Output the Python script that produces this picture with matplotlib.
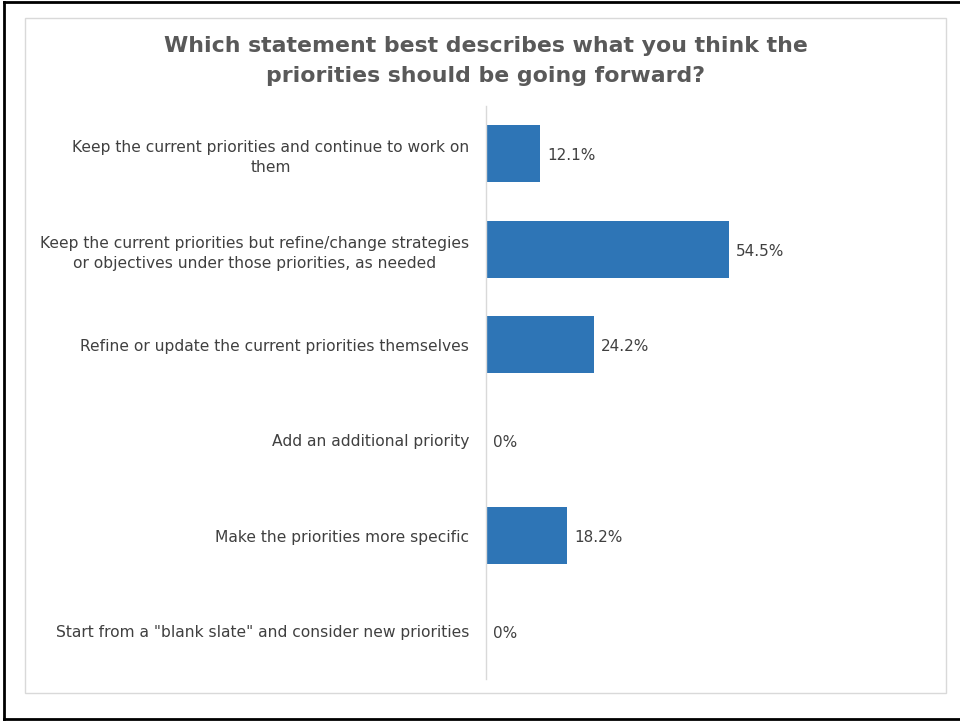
import matplotlib.pyplot as plt
from matplotlib.patches import Rectangle

categories = [
    "Keep the current priorities and continue to work on\nthem",
    "Keep the current priorities but refine/change strategies\nor objectives under those priorities, as needed",
    "Refine or update the current priorities themselves",
    "Add an additional priority",
    "Make the priorities more specific",
    "Start from a \"blank slate\" and consider new priorities",
]
values = [12.1, 54.5, 24.2, 0, 18.2, 0]
value_labels = ["12.1%", "54.5%", "24.2%", "0%", "18.2%", "0%"]
title = "Which statement best describes what you think the\npriorities should be going forward?"

W, H = 960, 721
fig = plt.figure(figsize=(W / 100, H / 100), dpi=100)
fig.patch.set_facecolor("white")

# outer black frame (no right edge) and inner light gray chart border
fig.add_artist(plt.Line2D([4 / W, 4 / W], [1 - 2 / H, 2 / H], color="black", lw=2,
                          transform=fig.transFigure))
fig.add_artist(plt.Line2D([4 / W, 1], [1 - 2 / H, 1 - 2 / H], color="black", lw=2,
                          transform=fig.transFigure))
fig.add_artist(plt.Line2D([4 / W, 1], [2 / H, 2 / H], color="black", lw=2,
                          transform=fig.transFigure))
fig.add_artist(Rectangle((25 / W, 1 - 693 / H), (946 - 25) / W, (693 - 18) / H,
                         transform=fig.transFigure, fill=False, edgecolor="#D9D9D9", lw=1))

left, right = 486, 932
top, bottom = 106, 679
ax = fig.add_axes([left / W, 1 - bottom / H, (right - left) / W, (bottom - top) / H])

y = list(range(len(categories)))
ax.barh(y, values, height=0.6, color="#2E75B6")
for yi, v, lab in zip(y, values, value_labels):
    ax.text(v + 1.6, yi + 0.02, lab, va="center", ha="left", fontsize=11, color="#404040")

ax.set_xlim(0, 100)
ax.set_ylim(len(categories) - 0.5, -0.5)
ax.set_yticks(y)
ax.set_yticklabels(categories, fontsize=11.2, color="#404040", multialignment="center",
                   linespacing=1.4)
ax.tick_params(axis="y", length=0, pad=12)
ax.set_xticks([])
for s in ["top", "right", "bottom"]:
    ax.spines[s].set_visible(False)
ax.spines["left"].set_color("#D9D9D9")
ax.spines["left"].set_linewidth(1)

fig.text(486 / W, 1 - 61 / H, title, ha="center", va="center", fontsize=15.8,
         fontweight="bold", color="#595959", linespacing=1.65)

fig.savefig("out.png", dpi=100)
